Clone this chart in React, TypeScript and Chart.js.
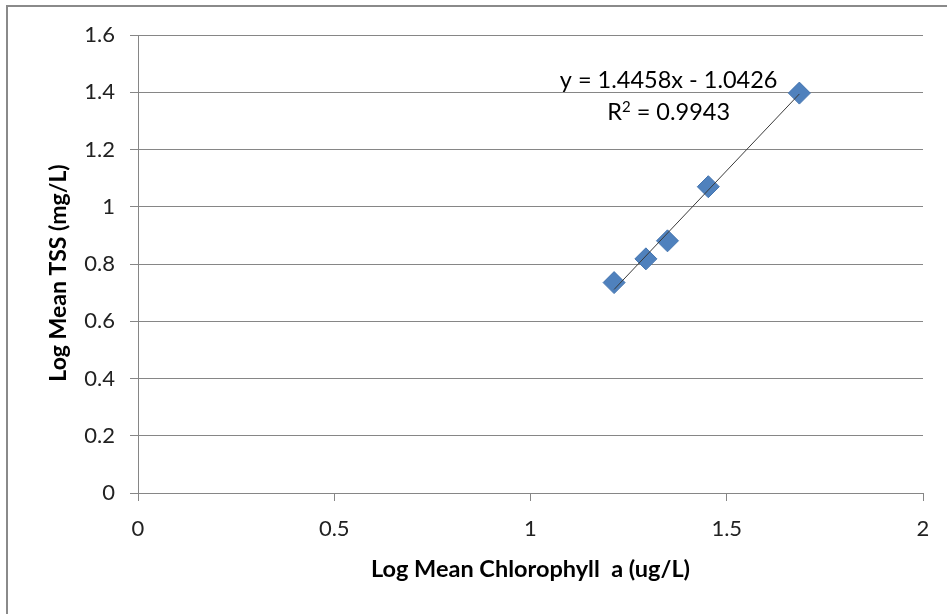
import React, { useEffect, useRef } from "react";
import { Chart, registerables } from "chart.js";

Chart.register(...registerables);

// Data
const chlorophyllLog: number[] = [1.213, 1.294, 1.349, 1.453, 1.685];
const tssLog: number[] = [0.735, 0.818, 0.881, 1.07, 1.397];

// Linear trendline endpoints (as drawn in the reference)
const trendX: number[] = [1.213, 1.685];
const trendY: number[] = [0.711, 1.394];

const equationText = "y = 1.4458x - 1.0426";
const r2Prefix = "R";
const r2Sup = "2";
const r2Rest = " = 0.9943";
const equationAnchor = { x: 1.352, y: 1.415 }; // data units

const xTitle = "Log Mean Chlorophyll  a (ug/L)";
const yTitle = "Log Mean TSS (mg/L)";

const xMin = 0, xMax = 2, xStep = 0.5;
const yMin = 0, yMax = 1.6, yStep = 0.2;

const FONT = "Lato, 'Open Sans', sans-serif";
const GRID = "#868686";

const fmt = (v: any) => String(Math.round(Number(v) * 10) / 10);

export default function App() {
  const ref = useRef<HTMLCanvasElement | null>(null);

  useEffect(() => {
    document.body.style.margin = "0";
    const canvas = ref.current!;
    const framePlugin = {
      id: "frame",
      beforeDraw(chart: any) {
        const ctx = chart.ctx;
        ctx.save();
        ctx.fillStyle = "#ffffff";
        ctx.fillRect(0, 0, chart.width, chart.height);
        ctx.strokeStyle = "#8a8a8a";
        ctx.lineWidth = 2;
        ctx.strokeRect(7, 6, chart.width + 20, chart.height + 20);
        ctx.restore();
      },
      afterDraw(chart: any) {
        const ctx = chart.ctx;
        const xs = chart.scales.x;
        const ys = chart.scales.y;
        const cx = xs.getPixelForValue(equationAnchor.x);
        const cy = ys.getPixelForValue(equationAnchor.y);
        ctx.save();
        ctx.fillStyle = "#000000";
        ctx.textBaseline = "alphabetic";
        // equation line
        ctx.font = `23.5px ${FONT}`;
        ctx.textAlign = "center";
        ctx.fillText(equationText, cx, cy);
        // R² line with a real superscript
        const big = `23.5px ${FONT}`;
        const small = `15px ${FONT}`;
        ctx.font = big;
        const wR = ctx.measureText(r2Prefix).width;
        const wRest = ctx.measureText(r2Rest).width;
        ctx.font = small;
        const wSup = ctx.measureText(r2Sup).width;
        const total = wR + wSup + wRest;
        let x0 = cx - total / 2;
        const y1 = cy + 32;
        ctx.textAlign = "left";
        ctx.font = big;
        ctx.fillText(r2Prefix, x0, y1);
        x0 += wR;
        ctx.font = small;
        ctx.fillText(r2Sup, x0, y1 - 8);
        x0 += wSup;
        ctx.font = big;
        ctx.fillText(r2Rest, x0, y1);

        // y-axis title
        const ty = (chart.chartArea.top + chart.chartArea.bottom) / 2 + 9;
        ctx.translate(59, ty);
        ctx.rotate(-Math.PI / 2);
        ctx.font = `bold 23px ${FONT}`;
        ctx.textAlign = "center";
        ctx.textBaseline = "middle";
        ctx.fillText(yTitle, 0, 0);
        ctx.restore();
      },
    };

    const chart = new Chart(canvas, {
      type: "scatter",
      data: {
        datasets: [
          {
            label: "trend",
            data: trendX.map((x, i) => ({ x, y: trendY[i] })),
            showLine: true,
            borderColor: "#3a3a3a",
            borderWidth: 1,
            pointRadius: 0,
            fill: false,
          },
          {
            label: "data",
            data: chlorophyllLog.map((x, i) => ({ x, y: tssLog[i] })),
            pointStyle: "rectRot",
            pointRadius: 11,
            backgroundColor: "#4F81BD",
            borderColor: "#4575B0",
            borderWidth: 1,
          },
        ],
      },
      options: {
        animation: false,
        responsive: false,
        devicePixelRatio: 1,
        layout: { padding: { left: 0, top: 35, right: 24, bottom: 0 } },
        plugins: { legend: { display: false }, tooltip: { enabled: false } },
        scales: {
          x: {
            type: "linear",
            min: xMin,
            max: xMax,
            afterFit: (s: any) => { s.height = 121; },
            ticks: {
              stepSize: xStep,
              color: "#222",
              font: { family: FONT, size: 22 },
              padding: 15,
              maxRotation: 0,
              callback: fmt,
            },
            grid: { drawOnChartArea: false, color: GRID, tickLength: 8, tickColor: GRID },
            border: { color: GRID, width: 1 },
            title: {
              display: true,
              text: xTitle,
              color: "#000",
              font: { family: FONT, size: 23.5, weight: "bold" },
              padding: { top: 0, bottom: 30 },
            },
          },
          y: {
            type: "linear",
            min: yMin,
            max: yMax,
            afterFit: (s: any) => { s.width = 138; },
            ticks: {
              stepSize: yStep,
              color: "#222",
              font: { family: FONT, size: 22 },
              padding: 15,
              callback: fmt,
            },
            grid: { color: GRID, tickLength: 8, tickColor: GRID },
            border: { color: GRID, width: 1 },
            title: { display: false, text: yTitle },
          },
        },
      },
      plugins: [framePlugin],
    });
    return () => chart.destroy();
  }, []);

  return (
    <div style={{ position: "absolute", left: 0, top: 0, width: 947, height: 614 }}>
      <canvas ref={ref} width={947} height={614} style={{ width: 947, height: 614, display: "block" }} />
    </div>
  );
}
